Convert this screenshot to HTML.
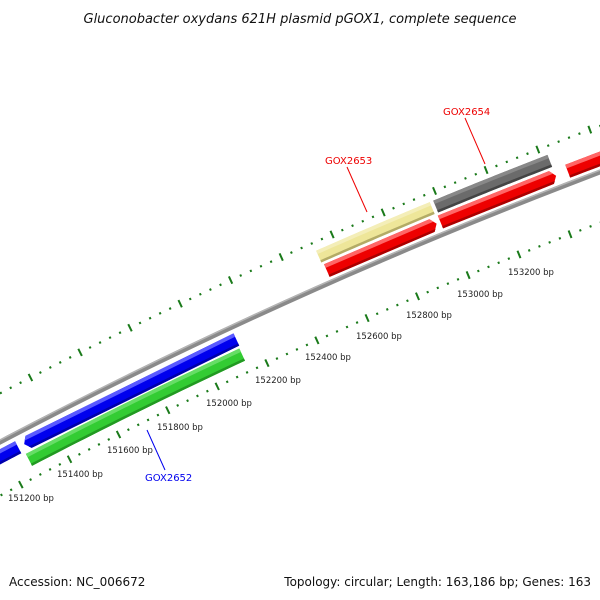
<!DOCTYPE html>
<html><head><meta charset="utf-8"><style>
html,body{margin:0;padding:0;background:#fff;}
svg{display:block;font-family:"DejaVu Sans","Liberation Sans",sans-serif;}
</style></head><body>
<svg id="s" width="600" height="600" viewBox="0 0 600 600" xmlns="http://www.w3.org/2000/svg">
<text x="300" y="23" text-anchor="middle" font-size="13" font-style="italic" fill="#111">Gluconobacter oxydans 621H plasmid pGOX1, complete sequence</text>
<g id="g"></g>
<g font-size="8.5" fill="#222">
<text x="8" y="501">151200 bp</text>
<text x="57" y="477">151400 bp</text>
<text x="107" y="453">151600 bp</text>
<text x="157" y="430">151800 bp</text>
<text x="206" y="406">152000 bp</text>
<text x="255" y="383">152200 bp</text>
<text x="305" y="360">152400 bp</text>
<text x="356" y="339">152600 bp</text>
<text x="406" y="318">152800 bp</text>
<text x="457" y="297">153000 bp</text>
<text x="508" y="275">153200 bp</text>
</g>
<line x1="465" y1="118" x2="485" y2="164" stroke="#e00" stroke-width="1"/>
<text x="443" y="115" font-size="10" fill="#e00">GOX2654</text>
<line x1="347" y1="167" x2="367" y2="212" stroke="#e00" stroke-width="1"/>
<text x="325" y="164" font-size="10" fill="#e00">GOX2653</text>
<line x1="147" y1="430" x2="165" y2="470" stroke="#00e" stroke-width="1"/>
<text x="145" y="481" font-size="10" fill="#00e">GOX2652</text>
<text x="9" y="586" font-size="12" fill="#111">Accession: NC_006672</text>
<text x="591" y="586" font-size="12" fill="#111" text-anchor="end">Topology: circular; Length: 163,186 bp; Genes: 163</text>
</svg>
<script>
var g=document.getElementById('g'),ns='http://www.w3.org/2000/svg';
// circumcircle through backbone points
var A=[0,442],B=[230,328],C=[600,172];
var d=2*(A[0]*(B[1]-C[1])+B[0]*(C[1]-A[1])+C[0]*(A[1]-B[1]));
function sq(p){return p[0]*p[0]+p[1]*p[1];}
var cx=(sq(A)*(B[1]-C[1])+sq(B)*(C[1]-A[1])+sq(C)*(A[1]-B[1]))/d;
var cy=(sq(A)*(C[0]-B[0])+sq(B)*(A[0]-C[0])+sq(C)*(B[0]-A[0]))/d;
var R=Math.hypot(A[0]-cx,A[1]-cy);
var a0=Math.atan2(A[1]-cy,A[0]-cx);
var aC=Math.atan2(C[1]-cy,C[0]-cx);
var sg=(aC>a0)?1:-1;
function xy(u,v){var a=a0+sg*u/R,r=R-v;return [cx+r*Math.cos(a),cy+r*Math.sin(a)];}
function uv(x,y){var a=Math.atan2(y-cy,x-cx);var r=Math.hypot(x-cx,y-cy);return [sg*R*(a-a0),R-r];}
function U(x,y){return uv(x,y)[0];}
function V(x,y){return uv(x,y)[1];}
function poly(pts,fill){var p=document.createElementNS(ns,'polygon');
 p.setAttribute('points',pts.map(function(q){var c=xy(q[0],q[1]);return c[0].toFixed(2)+','+c[1].toFixed(2);}).join(' '));
 p.setAttribute('fill',fill);g.appendChild(p);}
function band(u1,u2,v1,v2,fill){var pts=[],n=24,i;
 for(i=0;i<=n;i++)pts.push([u1+(u2-u1)*i/n,v1]);
 for(i=n;i>=0;i--)pts.push([u1+(u2-u1)*i/n,v2]);poly(pts,fill);}
band(-60,760,-2.5,2.5,'#8a8a8a');band(-60,760,-2.5,-1,'#b4b4b4');
function bar(u1,u2,v1,v2,c,lt,dk,dir){
 var m=(v1+v2)/2,t=(v2-v1)*0.28;
 if(dir>0){poly([[u1,v1],[u2-5,v1],[u2,m],[u2-5,v2],[u1,v2]],c);
  poly([[u1,v1],[u2-5,v1],[u2-2,v1+t],[u1,v1+t]],lt);
  poly([[u1,v2-2.5],[u2-3,v2-2.5],[u2-5,v2],[u1,v2]],dk);}
 else if(dir<0){poly([[u1+5,v1],[u2,v1],[u2,v2],[u1+5,v2],[u1,m]],c);
  poly([[u1+5,v1],[u2,v1],[u2,v1+t],[u1+2,v1+t]],lt);
  poly([[u1+3,v2-2.5],[u2,v2-2.5],[u2,v2],[u1+5,v2]],dk);}
 else{band(u1,u2,v1,v2,c);band(u1,u2,v1,v1+t,lt);band(u1,u2,v2-2.5,v2,dk);}
}
function av(a,b){return (a+b)/2;}
var b1=av(V(100,397),V(200,350)),b2=av(V(100,412),V(200,365));
var g1=av(V(100,415),V(200,368)),g2=av(V(100,430),V(200,383));
var r1=V(380,240),r2=V(380,255),y1=V(380,223),y2=V(380,237);
bar(-80,U(18,447),b1,b2,'#0000ee','#5a5aff','#0000aa',0);
bar(U(22,440),U(238,343),b1,b2,'#0000ee','#5a5aff','#0000aa',-1);
bar(U(29,460),U(247,365),g1,g2,'#33cc33','#66dd66','#229922',0);
bar(U(318,255),U(433,210),y1,y2,'#eee699','#f4eeb8','#b3ab66',0);
bar(U(435,205),U(551,164),y1,y2,'#6b6b6b','#888','#444',0);
bar(U(327,271),U(438,227),r1,r2,'#ee0000','#ff6666','#aa0000',1);
bar(U(440,221),U(557,178),r1,r2,'#ee0000','#ff6666','#aa0000',1);
bar(U(568,172),800,r1,r2,'#ee0000','#ff6666','#aa0000',0);
function tick(u,v,long){var c=xy(u,v),r=document.createElementNS(ns,'rect');
 var ang=(a0+sg*u/R)*180/Math.PI+90;
 if(long){r.setAttribute('x',-1);r.setAttribute('y',-4);r.setAttribute('width',2);r.setAttribute('height',8);}
 else{r.setAttribute('x',-1);r.setAttribute('y',-1);r.setAttribute('width',2);r.setAttribute('height',2.2);}
 r.setAttribute('transform','translate('+c[0].toFixed(2)+','+c[1].toFixed(2)+') rotate('+ang.toFixed(2)+')');
 r.setAttribute('fill','#1a7a1a');g.appendChild(r);}
var iu0=U(20,483),iu1=U(218,388),iv=(V(20,483)+V(218,388))/2,is=(iu1-iu0)/20;
for(var i=-10;i<75;i++)tick(iu0+i*is,iv,((i%5)+5)%5==0);
var ou0=U(383,212),ou1=U(538,150),ov=(V(383,212)+V(538,150))/2,os=(ou1-ou0)/15;
for(var i=-50;i<40;i++)tick(ou0+i*os,ov,((i%5)+5)%5==0);
</script>
</body></html>
